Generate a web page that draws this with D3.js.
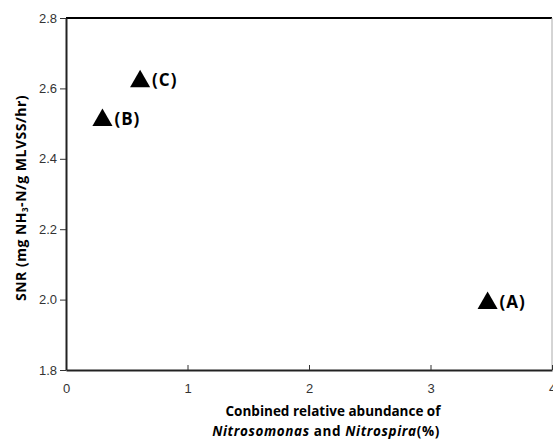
<!DOCTYPE html>
<html>
<head>
<meta charset="utf-8">
<script src="https://cdn.jsdelivr.net/npm/d3@7"></script>
<style>
  body { margin: 0; background: #fff; }
</style>
</head>
<body>
<svg id="chart"></svg>
<script>
// data
const samples = ["(A)", "(B)", "(C)"];
const abundance = [3.47, 0.30, 0.61];
const snr = [1.99, 2.51, 2.62];
const xTicks = [0, 1, 2, 3, 4];
const yTicks = [1.8, 2.0, 2.2, 2.4, 2.6, 2.8];

const W = 553, H = 443;
const margin = { top: 18, right: 1, bottom: 73, left: 66 };
const width = W - margin.left - margin.right;
const height = H - margin.top - margin.bottom;

const svg = d3.select("#chart")
    .attr("width", W)
    .attr("height", H);

const g = svg.append("g")
    .attr("transform", "translate(" + margin.left + "," + margin.top + ")");

const x = d3.scaleLinear().domain([0, 4]).range([0, width]);
const y = d3.scaleLinear().domain([1.8, 2.8]).range([height, 0]);

// frame: top line black, right line grey
g.append("line")
    .attr("x1", 0).attr("x2", width)
    .attr("y1", 0).attr("y2", 0)
    .attr("stroke", "#000").attr("stroke-width", 2);
g.append("line")
    .attr("x1", width).attr("x2", width)
    .attr("y1", 0).attr("y2", height)
    .attr("stroke", "#aaa").attr("stroke-width", 1);

// x axis, ticks pointing inward
const xAxis = g.append("g")
    .attr("transform", "translate(0," + height + ")")
    .call(d3.axisBottom(x).tickValues(xTicks).tickFormat(d3.format("d"))
        .tickSizeInner(-5).tickSizeOuter(0).tickPadding(14));

// y axis, ticks pointing outward
const yAxis = g.append("g")
    .call(d3.axisLeft(y).tickValues(yTicks).tickFormat(d3.format(".1f"))
        .tickSizeInner(6).tickSizeOuter(0).tickPadding(3));

[xAxis, yAxis].forEach(a => {
    a.select(".domain").attr("stroke", "#222").attr("stroke-width", 2);
    a.selectAll(".tick line").attr("stroke", "#333");
    a.selectAll(".tick text")
        .attr("fill", "#333")
        .style("font-family", "'Liberation Sans', Arial, sans-serif")
        .style("font-size", "13px");
});

// points
const pts = samples.map((s, i) => ({ label: s, x: abundance[i], y: snr[i] }));

g.selectAll("path.pt")
    .data(pts)
    .join("path")
    .attr("class", "pt")
    .attr("transform", d => "translate(" + x(d.x) + "," + y(d.y) + ")")
    .attr("d", d3.symbol().type(d3.symbolTriangle).size(175))
    .attr("fill", "#000");

g.selectAll("text.lbl")
    .data(pts)
    .join("text")
    .attr("class", "lbl")
    .attr("x", d => x(d.x) + 12)
    .attr("y", d => y(d.y) + 5)
    .style("font-family", "'Open Sans', 'Noto Sans', sans-serif")
    .style("font-weight", "bold")
    .style("font-size", "17px")
    .style("letter-spacing", "1px")
    .text(d => d.label);

// axis titles
const titleFont = "'Open Sans', 'Noto Sans', sans-serif";

const yt = svg.append("text")
    .attr("transform", "translate(26,198) rotate(-90)")
    .attr("text-anchor", "middle")
    .style("font-family", titleFont)
    .style("font-weight", "bold")
    .style("font-size", "14px")
    .style("letter-spacing", "0.5px");
yt.append("tspan").text("SNR (mg NH");
yt.append("tspan").attr("font-size", "8px").attr("dy", 2).text("3");
yt.append("tspan").attr("dy", -2).text("-N/g MLVSS/hr)");

svg.append("text")
    .attr("x", 333).attr("y", 416)
    .attr("text-anchor", "middle")
    .style("font-family", titleFont)
    .style("font-weight", "bold")
    .style("font-size", "13.5px")
    .text("Conbined relative abundance of");

const l2 = svg.append("text")
    .attr("x", 326).attr("y", 436)
    .attr("text-anchor", "middle")
    .style("font-family", titleFont)
    .style("font-weight", "bold")
    .style("font-size", "13.5px")
    .style("letter-spacing", "0.6px");
l2.append("tspan").style("font-style", "italic").text("Nitrosomonas");
l2.append("tspan").text(" and ");
l2.append("tspan").style("font-style", "italic").text("Nitrospira");
l2.append("tspan").text("(%)");
</script>
</body>
</html>
